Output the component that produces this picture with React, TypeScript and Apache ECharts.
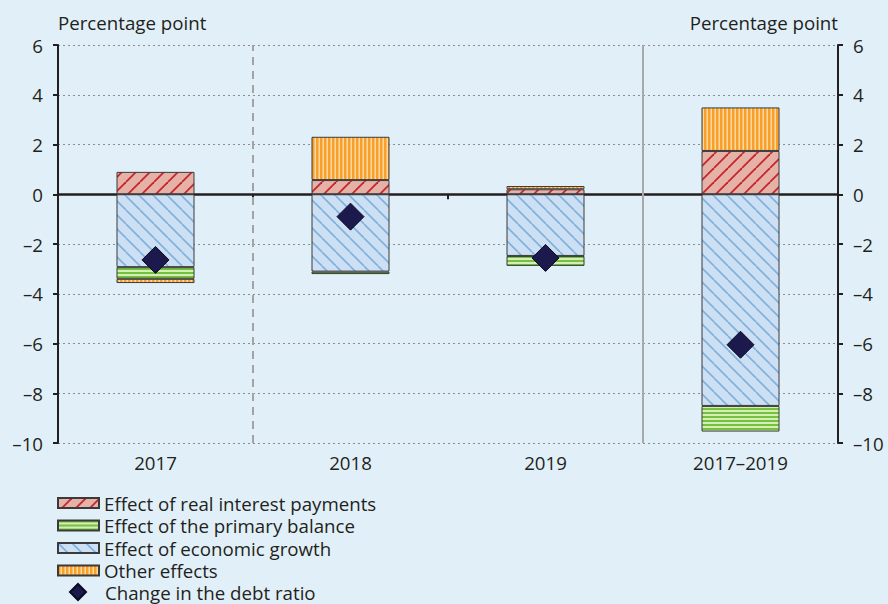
import React, { useEffect, useRef } from "react";
import * as echarts from "echarts";

const categories = ["2017", "2018", "2019", "2017–2019"];
const interestValues = [0.9, 0.57, 0.2, 1.74];
const growthValues = [-2.93, -3.11, -2.48, -8.51];
const primaryValues = [-0.47, -0.1, -0.4, -1.03];
const otherValues = [-0.17, 1.74, 0.13, 1.75];
const debtRatioValues = [-2.64, -0.9, -2.56, -6.05];

const NAME_INTEREST = "Effect of real interest payments";
const NAME_PRIMARY = "Effect of the primary balance";
const NAME_GROWTH = "Effect of economic growth";
const NAME_OTHER = "Other effects";
const NAME_DEBT = "Change in the debt ratio";

const FONT = "'Open Sans', 'Noto Sans', sans-serif";
const FS = 18.7;
const TEXT = "#231f20";

function makePattern(w: number, h: number, draw: (ctx: CanvasRenderingContext2D) => void) {
  const c = document.createElement("canvas");
  c.width = w;
  c.height = h;
  const ctx = c.getContext("2d") as CanvasRenderingContext2D;
  draw(ctx);
  return { image: c, repeat: "repeat" } as any;
}

export default function App() {
  const ref = useRef<HTMLDivElement>(null);
  useEffect(() => {
    document.body.style.margin = "0";
    if (!ref.current) return;
    const chart = echarts.init(ref.current, null, { renderer: "svg" });

    const interestPat = makePattern(14, 14, (ctx) => {
      ctx.fillStyle = "#e6b1a6";
      ctx.fillRect(0, 0, 14, 14);
      ctx.strokeStyle = "#c4262f";
      ctx.lineWidth = 1.8;
      for (const x0 of [-14, 0, 14]) {
        ctx.beginPath();
        ctx.moveTo(x0, 14);
        ctx.lineTo(x0 + 14, 0);
        ctx.stroke();
      }
    });
    const growthPat = makePattern(14, 14, (ctx) => {
      ctx.fillStyle = "#cddff2";
      ctx.fillRect(0, 0, 14, 14);
      ctx.strokeStyle = "#7db1de";
      ctx.lineWidth = 1.6;
      for (const x0 of [-14, 0, 14]) {
        ctx.beginPath();
        ctx.moveTo(x0, 0);
        ctx.lineTo(x0 + 14, 14);
        ctx.stroke();
      }
    });
    const primaryPat = makePattern(4, 4, (ctx) => {
      ctx.fillStyle = "#d3efb3";
      ctx.fillRect(0, 0, 4, 4);
      ctx.fillStyle = "#76bf40";
      ctx.fillRect(0, 0, 4, 2);
    });
    const otherPat = makePattern(4, 4, (ctx) => {
      ctx.fillStyle = "#f8a02a";
      ctx.fillRect(0, 0, 4, 4);
      ctx.fillStyle = "#fdd8a1";
      ctx.fillRect(2.5, 0, 1.5, 4);
    });

    const barBase = {
      type: "bar",
      stack: "total",
      xAxisIndex: 0,
      yAxisIndex: 0,
      barWidth: "40%",
    };
    const border = { borderColor: "#3a3a3a", borderWidth: 1 };

    const yLabelFmt = (v: number) => (v < 0 ? "–" + Math.abs(v) : String(v));

    const option: any = {
      animation: false,
      backgroundColor: "#e1f0f8",
      textStyle: { fontFamily: FONT, color: TEXT },
      grid: { left: 58, right: 50, top: 45, bottom: 161, containLabel: false },
      legend: [
        {
          orient: "vertical",
          left: 52,
          top: 488,
          itemWidth: 41,
          itemHeight: 10,
          itemGap: 2.5,
          icon: "rect",
          selectedMode: false,
          textStyle: { fontFamily: FONT, fontSize: FS, lineHeight: 20, color: TEXT },
          data: [NAME_INTEREST, NAME_PRIMARY, NAME_GROWTH, NAME_OTHER],
        },
        {
          orient: "vertical",
          left: 64,
          top: 577,
          itemWidth: 16,
          itemHeight: 16,
          selectedMode: false,
          textStyle: { fontFamily: FONT, fontSize: FS, lineHeight: 20, color: TEXT, padding: [0, 0, 0, 14] },
          data: [{ name: NAME_DEBT, icon: "diamond" }],
        },
      ],
      xAxis: [
        {
          type: "category",
          data: categories,
          position: "bottom",
          axisLine: { show: false, onZero: false },
          axisTick: { show: false },
          axisLabel: { fontSize: FS, color: TEXT, fontFamily: FONT, margin: 10 },
          splitLine: { show: false },
        },
        {
          type: "category",
          data: categories,
          position: "bottom",
          axisLine: { show: true, onZero: true, onZeroAxisIndex: 0, lineStyle: { color: "#231f20", width: 2.5 } },
          axisTick: { show: true, length: 5, lineStyle: { color: "#231f20", width: 2 } },
          axisLabel: { show: false },
          splitLine: { show: false },
        },
        {
          type: "value",
          min: 0,
          max: 4,
          show: false,
          splitLine: { show: false },
        },
      ],
      yAxis: [
        {
          type: "value",
          min: -10,
          max: 6,
          interval: 2,
          position: "left",
          name: "Percentage point",
          nameLocation: "end",
          nameGap: 13,
          nameTextStyle: { align: "left", fontSize: FS, color: TEXT, fontFamily: FONT },
          axisLine: { show: true, onZero: false, lineStyle: { color: "#231f20", width: 2 } },
          axisTick: { show: true, length: 5, lineStyle: { color: "#231f20", width: 2 } },
          axisLabel: { fontSize: FS, color: TEXT, fontFamily: FONT, margin: 15, formatter: yLabelFmt },
          splitLine: { show: true, lineStyle: { color: "#8c8c8c", width: 1.2, type: [2, 3] } },
        },
        {
          type: "value",
          min: -10,
          max: 6,
          interval: 2,
          position: "right",
          name: "Percentage point",
          nameLocation: "end",
          nameGap: 13,
          nameTextStyle: { align: "right", fontSize: FS, color: TEXT, fontFamily: FONT },
          axisLine: { show: true, onZero: false, lineStyle: { color: "#231f20", width: 2 } },
          axisTick: { show: true, length: 5, lineStyle: { color: "#231f20", width: 2 } },
          axisLabel: { fontSize: FS, color: TEXT, fontFamily: FONT, margin: 15, formatter: yLabelFmt },
          splitLine: { show: false },
        },
      ],
      series: [
        {
          ...barBase,
          name: NAME_INTEREST,
          data: interestValues,
          itemStyle: { color: interestPat, ...border },
        },
        {
          ...barBase,
          name: NAME_GROWTH,
          data: growthValues,
          itemStyle: { color: growthPat, ...border },
        },
        {
          ...barBase,
          name: NAME_PRIMARY,
          data: primaryValues,
          itemStyle: { color: primaryPat, ...border },
        },
        {
          ...barBase,
          name: NAME_OTHER,
          data: otherValues,
          itemStyle: { color: otherPat, ...border },
        },
        {
          type: "scatter",
          name: NAME_DEBT,
          xAxisIndex: 0,
          yAxisIndex: 0,
          symbol: "diamond",
          symbolSize: 27,
          z: 5,
          data: debtRatioValues,
          itemStyle: { color: "#1c1a4c", borderColor: "#0b0a22", borderWidth: 1, opacity: 1 },
        },
        {
          type: "line",
          name: "separators",
          xAxisIndex: 2,
          yAxisIndex: 0,
          data: [],
          silent: true,
          markLine: {
            silent: true,
            symbol: "none",
            label: { show: false },
            data: [
              { xAxis: 1, lineStyle: { color: "#a3a3a3", width: 2, type: [8, 6] } },
              { xAxis: 3, lineStyle: { color: "#a8a8a8", width: 2, type: "solid" } },
            ],
          },
        },
      ],
    };
    chart.setOption(option);
    return () => chart.dispose();
  }, []);
  return <div ref={ref} style={{ width: 888, height: 604 }} />;
}
